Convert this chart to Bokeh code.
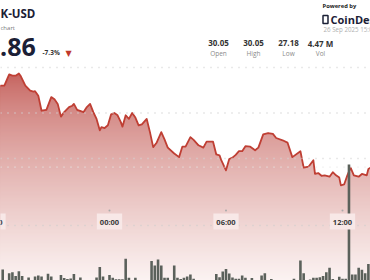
import numpy as np
import pandas as pd
from bokeh.plotting import figure
from bokeh.models import Range1d, Label, Span
from bokeh.embed import file_html
from bokeh.resources import INLINE

# ---------------- data ----------------
START = pd.Timestamp("2025-09-25 18:00")

# price line: minutes after START, USD
price_minutes = [20, 35, 50, 60, 70, 80, 85, 100, 115, 125,
                 130, 140, 150, 165, 180, 190, 200, 210, 220, 235,
                 245, 250, 260, 280, 290, 300, 310, 320, 330, 335,
                 345, 355, 365, 375, 385, 395, 400, 410, 420, 430,
                 440, 450, 460, 475, 485, 495, 505, 520, 530, 540,
                 560, 575, 585, 595, 610, 620, 635, 650, 660, 680,
                 690, 700, 705, 720, 730, 740, 750, 760, 770, 780,
                 795, 810, 820, 835, 850, 865, 875, 895, 910, 925,
                 950, 960, 975, 990, 995, 1005, 1015, 1025, 1040, 1050,
                 1060, 1070, 1075, 1085, 1095, 1105, 1115, 1130, 1140, 1155,
                 1160, 1170]
price_values = [29.60, 29.60, 29.85, 29.82, 29.82, 29.87, 29.82, 29.60, 29.49, 29.47,
                29.48, 29.38, 29.05, 29.07, 29.35, 29.30, 29.20, 28.92, 29.02, 29.13,
                29.16, 29.20, 29.07, 29.02, 29.13, 29.20, 29.02, 28.87, 28.62, 28.69,
                28.67, 28.73, 28.97, 29.00, 28.95, 28.80, 28.70, 28.95, 28.87, 29.00,
                28.90, 28.73, 28.75, 28.87, 28.58, 28.25, 28.34, 28.58, 28.42, 28.24,
                28.11, 28.03, 28.26, 28.26, 28.47, 28.41, 28.29, 28.24, 28.37, 28.37,
                28.09, 28.07, 27.97, 27.74, 27.99, 28.02, 28.08, 28.16, 28.16, 28.27,
                28.26, 28.18, 28.24, 28.53, 28.56, 28.54, 28.45, 28.40, 28.35, 28.03,
                28.16, 27.80, 27.82, 27.96, 27.66, 27.68, 27.62, 27.63, 27.60, 27.70,
                27.63, 27.58, 27.41, 27.43, 27.63, 27.80, 27.63, 27.60, 27.66, 27.63,
                27.77, 27.81]

# volume: 10-minute bars, first bar at 18:20 (thousands)
vol_first_minute = 20
vol_step_minutes = 10
volume_k = [0, 66, 0, 44, 50, 27, 56, 27, 0, 18,
            0, 24, 30, 24, 0, 40, 24, 0, 0, 33,
            15, 9, 12, 39, 0, 18, 0, 0, 0, 0,
            18, 81, 24, 0, 33, 16, 8, 8, 8, 130,
            16, 0, 16, 0, 0, 0, 0, 117, 90, 126,
            90, 16, 16, 0, 90, 16, 9, 16, 24, 36,
            10, 0, 0, 0, 0, 0, 0, 39, 20, 54,
            69, 42, 18, 10, 10, 30, 16, 0, 15, 0,
            0, 30, 44, 0, 9, 0, 0, 0, 0, 0,
            0, 10, 0, 120, 44, 0, 6, 16, 16, 20,
            27, 50, 76, 9, 0, 22, 10, 10, 696, 36,
            36, 76, 64, 44, 99]

grid_levels = [28.0, 29.0, 30.0]
tick_labels = ["18:00", "00:00", "06:00", "12:00"]
tick_minutes = [0, 360, 720, 1080]

symbol = "K-USD"
subtitle = "chart"
last_price = ".86"
change_pct = "-7.3%"
stat_values = ["30.05", "30.05", "27.18", "4.47 M"]
stat_names = ["Open", "High", "Low", "Vol"]
stamp = "26 Sep 2025 15:00 UTC"

# ---------------- geometry ----------------
W, H = 370, 280
PX_PER_MIN = 116.5 / 360.0
LEFT_MIN = 7.5 / PX_PER_MIN
PX_PER_USD = 45.5
REF_PRICE, REF_PX = 30.0, 67.0
MS = 60000.0
t0 = START.value / 1e6


def tms(m):
    return t0 + np.asarray(m, dtype=float) * MS


def price_at_px(py):
    return REF_PRICE - (py - REF_PX) / PX_PER_USD


x_lo = tms(LEFT_MIN)
x_hi = tms(LEFT_MIN + W / PX_PER_MIN)
y_lo = price_at_px(H)
y_hi = price_at_px(0)

p = figure(width=W, height=H, x_range=Range1d(x_lo, x_hi), y_range=Range1d(y_lo, y_hi),
           output_backend="svg", toolbar_location=None, min_border=0,
           x_axis_location=None, y_axis_location=None, title=None)
p.grid.visible = False
p.outline_line_color = None
p.background_fill_color = "white"
p.border_fill_color = "white"
p.extra_y_ranges = {"vol": Range1d(0, H * 6.0), "px": Range1d(H, 0)}
p.extra_x_ranges = {"px": Range1d(0, W)}

FONT = "Open Sans"

# ---------------- area gradient (stacked bands) ----------------
t_line = tms(price_minutes)
pr = np.asarray(price_values)
top_c = np.array([194, 90, 85])
bot_c = np.array([251, 243, 242])


def col_at(py):
    f = np.clip((py - 70.0) / 210.0, 0, 1) ** 0.7
    c = top_c + f * (bot_c - top_c)
    return "#%02x%02x%02x" % tuple(int(round(v)) for v in c)


p.varea(x=t_line, y1=y_lo, y2=pr, fill_color=col_at(70))
for py in np.arange(72, 280, 2):
    lvl = price_at_px(py)
    p.varea(x=t_line, y1=y_lo, y2=np.minimum(pr, lvl), fill_color=col_at(py + 1))

# ---------------- grid / reference lines ----------------
DOTS = dict(dimension="width", line_dash="1 6", line_width=1.3, line_cap="butt")
for lvl in grid_levels:
    p.add_layout(Span(location=lvl, line_color="#d2d2d2", **DOTS))
p.add_layout(Span(location=price_values[-1], line_color="#e6e6e6", **DOTS))
p.add_layout(Span(location=225, y_range_name="px", line_color="#cccccc", **DOTS))

# ---------------- price line ----------------
p.line(t_line, pr, line_color="#bf3f34", line_width=1.8, line_join="round")

# ---------------- volume ----------------
vol_t = tms(vol_first_minute + vol_step_minutes * np.arange(len(volume_k)))
p.vbar(x=vol_t, top=volume_k, bottom=0, width=vol_step_minutes * MS * 0.8,
       y_range_name="vol", fill_color="#5b615b", line_color=None)

# ---------------- time ticks ----------------
tick_t = tms(tick_minutes)
p.scatter(x=tick_t, y=[210] * len(tick_t), y_range_name="px", size=2,
          fill_color="#aaaaaa", line_color=None)
for tt, lab in zip(tick_t, tick_labels):
    p.add_layout(Label(x=tt, y=221, y_range_name="px", text=lab, text_align="center",
                       text_baseline="middle", text_font=FONT, text_font_size="7.5px",
                       text_font_style="bold", text_color="#3a3a3a",
                       background_fill_color="#f8e8e7", padding=3))


# ---------------- header ----------------
def lab(x, y, text, size, color, bold=False, align="left", font=FONT):
    p.add_layout(Label(x=x, y=y, x_range_name="px", y_range_name="px", text=text,
                       text_align=align, text_baseline="middle", text_font=font,
                       text_font_size=size, text_color=color,
                       text_font_style="bold" if bold else "normal"))


lab(0, 13, symbol, "11.5px", "#1b2036", bold=True)
lab(0, 27, subtitle, "6px", "#777777")
lab(-0.5, 46, last_price, "25px", "#1b2036", bold=True)
lab(42, 52, change_pct, "6.5px", "#333333", bold=True)
lab(65, 52.5, "▼", "8px", "#c0392b", font="DejaVu Sans")

lab(322, 5, "Powered by", "5.8px", "#222222", bold=True)
p.quad(left=[322.5], right=[327.5], top=[15], bottom=[23], x_range_name="px", y_range_name="px",
       fill_color=None, line_color="#1b2036", line_width=1.5)
lab(330, 19, "CoinDesk", "11px", "#1b2036", bold=True)
lab(323, 29, stamp, "6.2px", "#b0b0b0")

for cx, v, n in zip([218, 253, 288, 320], stat_values, stat_names):
    lab(cx, 42.5, v, "8px", "#333333", bold=True, align="center")
    lab(cx, 52.5, n, "6.5px", "#8a8a8a", align="center")

open("out.html", "w").write(file_html(p, INLINE))
